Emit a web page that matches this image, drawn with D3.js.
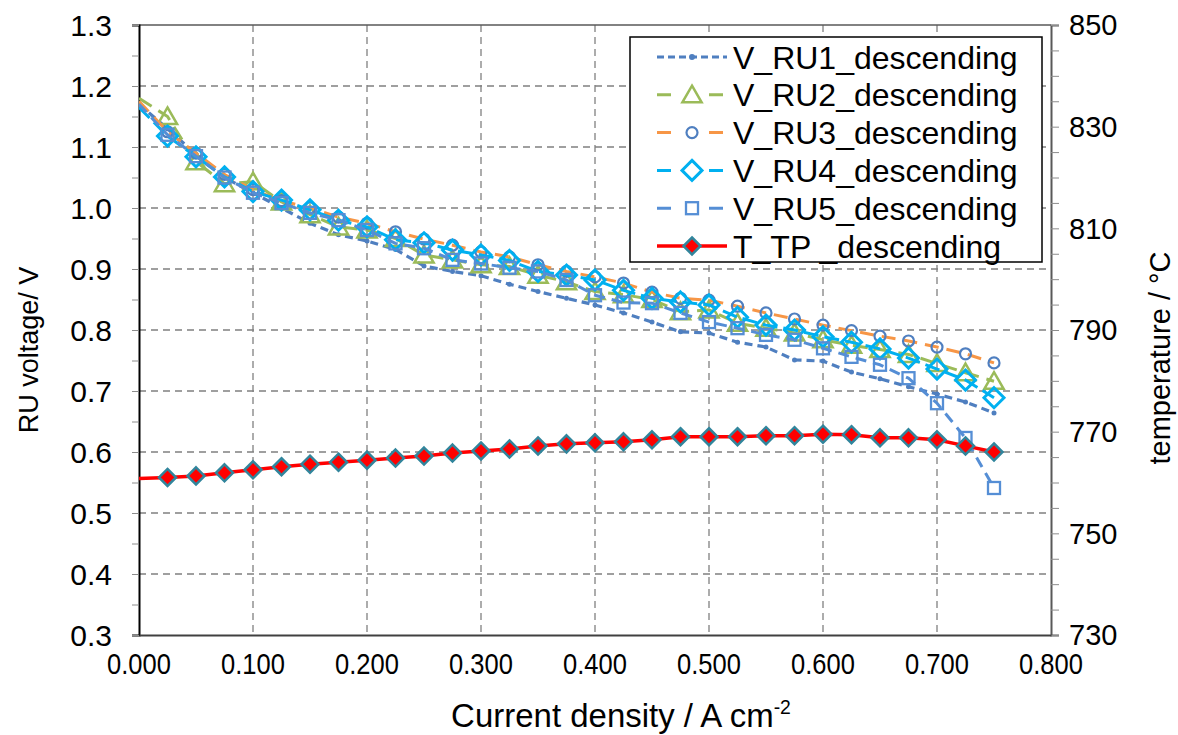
<!DOCTYPE html>
<html lang="en">
<head>
  <meta charset='utf-8'>
  <title>RU voltage and temperature vs current density</title>
  <style>
    body { margin: 0; background: #ffffff; }
    svg { display: block; background: #ffffff; }
    text { font-family: "Liberation Sans", Arial, sans-serif; fill: #000; }
  </style>
</head>
<body>
  <div id="chart"></div>

<script src="https://cdn.jsdelivr.net/npm/d3@7"></script>
<script>

  ////////////////////////////////////////////////// DATA

  // current density, A cm-2
  var currentDensity = [0.000, 0.025, 0.050, 0.075, 0.100, 0.125, 0.150, 0.175, 0.200, 0.225,
                        0.250, 0.275, 0.300, 0.325, 0.350, 0.375, 0.400, 0.425, 0.450, 0.475,
                        0.500, 0.525, 0.550, 0.575, 0.600, 0.625, 0.650, 0.675, 0.700, 0.725, 0.750];

  // RU voltages, V
  var vRU1 = [1.170, 1.130, 1.088, 1.050, 1.025, 1.000, 0.975, 0.956, 0.946, 0.932,
              0.905, 0.896, 0.889, 0.875, 0.863, 0.852, 0.841, 0.828, 0.813, 0.797,
              0.795, 0.780, 0.772, 0.751, 0.749, 0.731, 0.720, 0.707, 0.695, 0.682, 0.664];
  var vRU2 = [1.180, 1.150, 1.076, 1.040, 1.043, 1.010, 0.989, 0.969, 0.964, 0.950,
              0.923, 0.915, 0.907, 0.904, 0.890, 0.879, 0.863, 0.858, 0.850, 0.830,
              0.833, 0.811, 0.803, 0.795, 0.784, 0.775, 0.768, 0.760, 0.745, 0.730, 0.716];
  var vRU3 = [1.175, 1.125, 1.090, 1.055, 1.030, 1.012, 1.000, 0.985, 0.975, 0.961,
              0.949, 0.939, 0.928, 0.920, 0.907, 0.896, 0.887, 0.877, 0.862, 0.852,
              0.849, 0.839, 0.828, 0.818, 0.808, 0.799, 0.790, 0.782, 0.772, 0.761, 0.746];
  var vRU4 = [1.165, 1.118, 1.084, 1.051, 1.027, 1.013, 0.997, 0.980, 0.969, 0.948,
              0.943, 0.931, 0.923, 0.914, 0.896, 0.890, 0.882, 0.865, 0.852, 0.846,
              0.841, 0.821, 0.808, 0.800, 0.789, 0.780, 0.769, 0.754, 0.736, 0.718, 0.689];
  var vRU5 = [1.170, 1.120, 1.085, 1.050, 1.025, 1.008, 0.992, 0.980, 0.964, 0.942,
              0.934, 0.915, 0.909, 0.902, 0.896, 0.882, 0.857, 0.845, 0.844, 0.828,
              0.813, 0.803, 0.792, 0.784, 0.770, 0.756, 0.743, 0.721, 0.680, 0.623, 0.541];

  // test point temperature, degC
  var tTP = [760.8, 761.0, 761.3, 761.9, 762.5, 763.1, 763.6, 764.0, 764.4, 764.8,
             765.2, 765.8, 766.2, 766.6, 767.2, 767.6, 767.8, 768.0, 768.4, 769.0,
             769.0, 769.0, 769.2, 769.2, 769.5, 769.4, 768.8, 768.8, 768.4, 767.2, 766.0];

  var seriesNames = ["V_RU1_descending", "V_RU2_descending", "V_RU3_descending",
                     "V_RU4_descending", "V_RU5_descending", "T_TP _descending"];

  var xTicks  = [0, 0.1, 0.2, 0.3, 0.4, 0.5, 0.6, 0.7, 0.8];
  var yTicks  = [0.3, 0.4, 0.5, 0.6, 0.7, 0.8, 0.9, 1.0, 1.1, 1.2, 1.3];
  var y2Ticks = [730, 750, 770, 790, 810, 830, 850];

  ////////////////////////////////////////////////// SETUP

  var width = 1178, height = 735;
  var margin = {top: 25, right: 127, bottom: 100, left: 139};
  var plotW = width - margin.left - margin.right;   // 912
  var plotH = height - margin.top - margin.bottom;  // 610

  var svg = d3.select("#chart").append("svg")
              .attr("width", width)
              .attr("height", height);

  var g = svg.append("g")
             .attr("transform", "translate(" + margin.left + "," + margin.top + ")");

  var x  = d3.scaleLinear().domain([0, 0.8]).range([0, plotW]);
  var y  = d3.scaleLinear().domain([0.3, 1.3]).range([plotH, 0]);
  var y2 = d3.scaleLinear().domain([730, 850]).range([plotH, 0]);

  // styles of the series
  var styles = [
    {data: vRU1, scale: y,  color: "#4F7FC0", dash: "8,5",  width: 3.2, marker: "dot"},
    {data: vRU2, scale: y,  color: "#9BBB59", dash: "15,8", width: 3,   marker: "triangle"},
    {data: vRU3, scale: y,  color: "#F79646", dash: "14,8", width: 3,   marker: "circle"},
    {data: vRU4, scale: y,  color: "#00B0F0", dash: "15,6", width: 3,   marker: "diamond"},
    {data: vRU5, scale: y,  color: "#558ED5", dash: "11,7", width: 3,   marker: "square"},
    {data: tTP,  scale: y2, color: "#FF0000", dash: null,   width: 3.5, marker: "tdiamond"}
  ];

  ////////////////////////////////////////////////// GRID

  g.append("g").selectAll("line")
    .data(xTicks.slice(1, -1))
    .enter().append("line")
    .attr("x1", function(d){ return x(d); })
    .attr("x2", function(d){ return x(d); })
    .attr("y1", 0).attr("y2", plotH)
    .attr("stroke", "#808080").attr("stroke-width", 1.3)
    .attr("stroke-dasharray", "7,5");

  g.append("g").selectAll("line")
    .data(yTicks.slice(1, -1))
    .enter().append("line")
    .attr("x1", 0).attr("x2", plotW)
    .attr("y1", function(d){ return y(d); })
    .attr("y2", function(d){ return y(d); })
    .attr("stroke", "#808080").attr("stroke-width", 1.3)
    .attr("stroke-dasharray", "7,5");

  // top border
  g.append("line").attr("x1", 0).attr("x2", plotW).attr("y1", 0).attr("y2", 0)
   .attr("stroke", "#595959").attr("stroke-width", 1.5);

  ////////////////////////////////////////////////// AXES

  var fmtX = d3.format(".3f");
  var fmtY = d3.format(".1f");

  // left axis, ticks every 0.05
  var yAxis = d3.axisLeft(y).tickValues(d3.range(0.3, 1.3001, 0.05)).tickSize(7).tickFormat("");
  var gy = g.append("g").call(yAxis);
  gy.select(".domain").attr("stroke", "#000").attr("stroke-width", 2);
  gy.selectAll(".tick line").attr("stroke", "#8c8c8c").attr("stroke-width", 1);
  g.append("g").selectAll("text")
    .data(yTicks).enter().append("text")
    .attr("x", -27).attr("y", function(d){ return y(d); })
    .attr("dy", "0.36em")
    .attr("text-anchor", "end")
    .style("font-size", "30px")
    .text(function(d){ return fmtY(d); });

  // right axis, ticks every 5 degC
  var y2Axis = d3.axisRight(y2).tickValues(d3.range(730, 850.1, 5)).tickSize(8).tickFormat("");
  var gy2 = g.append("g").attr("transform", "translate(" + plotW + ",0)").call(y2Axis);
  gy2.select(".domain").attr("stroke", "#595959").attr("stroke-width", 2);
  gy2.selectAll(".tick line").attr("stroke", "#8c8c8c").attr("stroke-width", 1);
  g.append("g").selectAll("text")
    .data(y2Ticks).enter().append("text")
    .attr("x", plotW + 18).attr("y", function(d){ return y2(d); })
    .attr("dy", "0.36em")
    .attr("text-anchor", "start")
    .style("font-size", "29px")
    .text(function(d){ return d; });

  // bottom axis (labels slightly condensed, as in the original)
  var xAxis = d3.axisBottom(x).tickValues(xTicks).tickSize(0).tickFormat("");
  var gx = g.append("g").attr("transform", "translate(0," + plotH + ")").call(xAxis);
  gx.select(".domain").attr("stroke", "#404040").attr("stroke-width", 2);
  g.append("g").selectAll("text")
    .data(xTicks).enter().append("text")
    .attr("transform", function(d){ return "translate(" + x(d) + "," + (plotH + 39) + ") scale(0.88,1)"; })
    .attr("text-anchor", "middle")
    .style("font-size", "29px")
    .text(function(d){ return fmtX(d); });

  // axis titles
  svg.append("text")
     .attr("transform", "translate(38,350) rotate(-90)")
     .attr("text-anchor", "middle")
     .style("font-size", "27px")
     .text("RU voltage/ V");

  svg.append("text")
     .attr("transform", "translate(1170,358) rotate(-90)")
     .attr("text-anchor", "middle")
     .style("font-size", "29px")
     .text("temperature / \u00B0C");

  var xt = svg.append("text")
              .attr("transform", "translate(621,727) scale(0.97,1)")
              .attr("text-anchor", "middle")
              .style("font-size", "34px");
  xt.append("tspan").text("Current density / A cm");
  xt.append("tspan").attr("dy", -13).style("font-size", "20px").text("-2");

  ////////////////////////////////////////////////// SERIES

  function drawMarker(sel, type, color, size) {
    if (type === "dot") {
      sel.append("circle").attr("r", size || 2.5).attr("fill", color).attr("stroke", "none");
    } else if (type === "triangle") {
      sel.append("path").attr("d", d3.symbol(d3.symbolTriangle, 160)())
         .attr("transform", "translate(0,2)")
         .attr("fill", "none").attr("stroke", "#9BBB59").attr("stroke-width", 2.5);
    } else if (type === "circle") {
      sel.append("circle").attr("r", 5.5)
         .attr("fill", "none").attr("stroke", "#4F7FC0").attr("stroke-width", 2.2);
    } else if (type === "diamond") {
      sel.append("path").attr("d", "M0,-10L10,0L0,10L-10,0Z")
         .attr("fill", "none").attr("stroke", "#00B0F0").attr("stroke-width", 3);
    } else if (type === "square") {
      sel.append("rect").attr("x", -6).attr("y", -6).attr("width", 12).attr("height", 12)
         .attr("fill", "none").attr("stroke", "#558ED5").attr("stroke-width", 2.3);
    } else if (type === "tdiamond") {
      sel.append("path").attr("d", "M0,-8.5L8.5,0L0,8.5L-8.5,0Z")
         .attr("fill", "#FF0000").attr("stroke", "#31859C").attr("stroke-width", 2.5);
    }
  }

  svg.append("defs").append("clipPath").attr("id", "plotClip")
     .append("rect").attr("x", 0).attr("y", 0).attr("width", plotW).attr("height", plotH);

  var series = g.append("g").attr("clip-path", "url(#plotClip)");

  styles.forEach(function(s) {
    var pts = currentDensity.map(function(c, i){ return [c, s.data[i]]; });
    var line = d3.line()
                 .x(function(d){ return x(d[0]); })
                 .y(function(d){ return s.scale(d[1]); });

    series.append("path")
          .datum(pts)
          .attr("d", line)
          .attr("fill", "none")
          .attr("stroke", s.color)
          .attr("stroke-width", s.width)
          .attr("stroke-dasharray", s.dash)
          .attr("stroke-linejoin", "round");

    series.append("g").selectAll("g")
          .data(pts.slice(1))
          .enter().append("g")
          .attr("transform", function(d){ return "translate(" + x(d[0]) + "," + s.scale(d[1]) + ")"; })
          .each(function(){ drawMarker(d3.select(this), s.marker, s.color); });
  });

  ////////////////////////////////////////////////// LEGEND

  var legend = svg.append("g").attr("transform", "translate(630,37)");
  legend.append("rect")
        .attr("x", 0).attr("y", 0).attr("width", 412).attr("height", 225)
        .attr("fill", "#fff").attr("stroke", "#000").attr("stroke-width", 1.5);

  styles.forEach(function(s, i) {
    var row = legend.append("g").attr("transform", "translate(0," + (20 + i * 37.8) + ")");
    row.append("line")
       .attr("x1", 27).attr("x2", 97).attr("y1", 0).attr("y2", 0)
       .attr("stroke", s.color).attr("stroke-width", s.width)
       .attr("stroke-dasharray", s.dash ? (i === 0 ? "7,4" : "14,12") : null);
    var m = row.append("g").attr("transform", "translate(62,0)");
    if (s.marker !== "dot" && s.dash) {
      m.append("rect").attr("x", -12).attr("y", -12).attr("width", 24).attr("height", 24).attr("fill", "#fff");
    }
    drawMarker(m, s.marker, s.color, 3);
    row.append("text")
       .attr("x", 103).attr("y", 0).attr("dy", "0.36em")
       .style("font-size", "32px")
       .text(seriesNames[i]);
  });

</script>
</body>
</html>
